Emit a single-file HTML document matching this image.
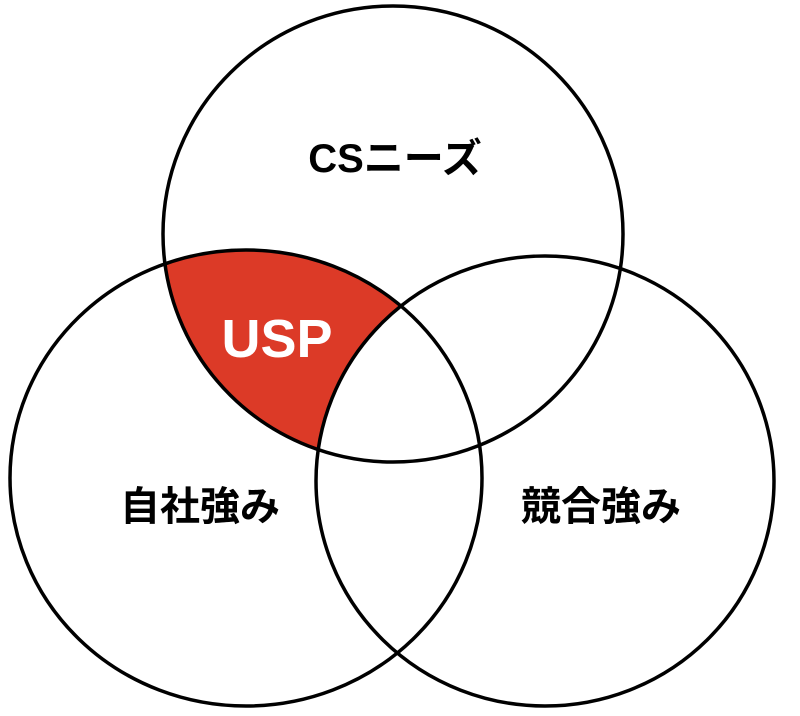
<!DOCTYPE html>
<html><head><meta charset="utf-8"><style>html,body{margin:0;padding:0;background:#fff}svg{display:block}</style></head>
<body>
<svg width="800" height="716" viewBox="0 0 800 716" xmlns="http://www.w3.org/2000/svg">
<defs>
<clipPath id="cTop"><ellipse cx="393" cy="234" rx="230" ry="228"/></clipPath>
<mask id="mR"><rect width="800" height="716" fill="#fff"/><ellipse cx="545" cy="481" rx="229" ry="225" fill="#000"/></mask>
</defs>
<g clip-path="url(#cTop)" mask="url(#mR)"><ellipse cx="246" cy="478" rx="236" ry="228" fill="#dc3a27"/></g>
<g fill="none" stroke="#000" stroke-width="3.5">
<ellipse cx="393" cy="234" rx="230" ry="228"/>
<ellipse cx="246" cy="478" rx="236" ry="228"/>
<ellipse cx="545" cy="481" rx="229" ry="225"/>
</g>
<g font-family="'Liberation Sans','Noto Sans CJK JP',sans-serif" font-weight="bold" text-anchor="middle">
<text x="395" y="172" font-size="40">CSニーズ</text>
<text x="200" y="520" font-size="40">自社強み</text>
<text x="601" y="520" font-size="40">競合強み</text>
<text x="277" y="357" font-size="54" fill="#fff">USP</text>
</g>
</svg>
</body></html>
